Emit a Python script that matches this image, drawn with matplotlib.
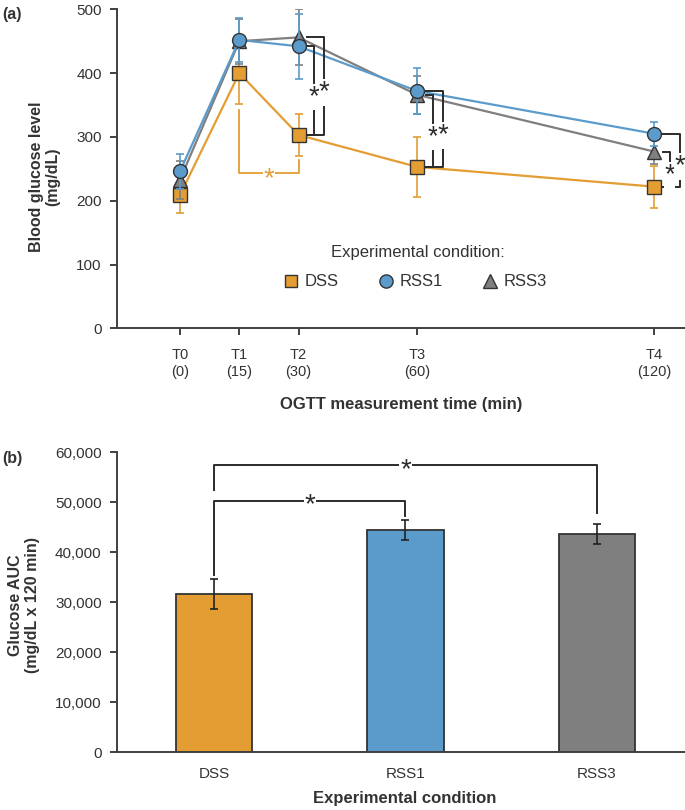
import matplotlib
matplotlib.use("Agg")
import matplotlib.pyplot as plt
from matplotlib.lines import Line2D

plt.rcParams['font.family'] = ['Liberation Sans', 'DejaVu Sans']

# ---------------- data ----------------
times = [0, 15, 30, 60, 120]
time_labels = ['T0\n(0)', 'T1\n(15)', 'T2\n(30)', 'T3\n(60)', 'T4\n(120)']
series_names = ['DSS', 'RSS1', 'RSS3']
dss_mean = [209, 400, 303, 253, 222]
dss_err = [29, 49, 33, 47, 33]
rss1_mean = [246, 452, 442, 372, 305]
rss1_err = [27, 35, 51, 36, 19]
rss3_mean = [233, 450, 456, 366, 277]
rss3_err = [30, 35, 44, 30, 20]

auc_categories = ['DSS', 'RSS1', 'RSS3']
auc_mean = [31600, 44400, 43600]
auc_err = [3000, 2000, 2000]

yticks_a = [0, 100, 200, 300, 400, 500]
yticks_b = [0, 10000, 20000, 30000, 40000, 50000, 60000]
ytick_labels_b = ['0', '10,000', '20,000', '30,000', '40,000', '50,000', '60,000']

# significance (time index, compared series) -- inner / outer
sig_a = [(2, 'RSS1', 'inner'), (2, 'RSS3', 'outer'),
         (3, 'RSS3', 'inner'), (3, 'RSS1', 'outer'),
         (4, 'RSS3', 'inner'), (4, 'RSS1', 'outer')]
# significance panel b: (left idx, right idx)
sig_b = [(0, 1), (0, 2)]

# ---------------- style ----------------
c_dss = '#E39D33'
c_rss1 = '#5B9BCB'
c_rss3 = '#7F7F7F'
c_edge = '#333333'
c_axis = '#404040'
c_text = '#333333'
c_sig = '#2b2b2b'

W, H = 685, 810
fig = plt.figure(figsize=(W / 100, H / 100), dpi=100)

def fx(px):
    return px / W

def fy(py):
    return 1 - py / H

# ---------------- panel a ----------------
ax1 = fig.add_axes([fx(117), fy(328.3), fx(685 - 117), (328.3 - 9.3) / H])
ax1.set_xlim(-15.95, 127.8)
ax1.set_ylim(0, 500)

means = {'DSS': dss_mean, 'RSS1': rss1_mean, 'RSS3': rss3_mean}
errs = {'DSS': dss_err, 'RSS1': rss1_err, 'RSS3': rss3_err}
colors = {'DSS': c_dss, 'RSS1': c_rss1, 'RSS3': c_rss3}
markers = {'DSS': 's', 'RSS1': 'o', 'RSS3': '^'}
msizes = {'DSS': 9.5, 'RSS1': 10, 'RSS3': 10}
zo = {'DSS': 3, 'RSS3': 4, 'RSS1': 5}

for name in ['DSS', 'RSS3', 'RSS1']:
    ax1.errorbar(times, means[name], yerr=errs[name], fmt='none',
                 ecolor=colors[name], elinewidth=1.2, capsize=3, capthick=1.2,
                 zorder=zo[name] - 0.5)
    ax1.plot(times, means[name], color=colors[name], lw=1.6,
             marker=markers[name], ms=msizes[name], mfc=colors[name],
             mec=c_edge, mew=1.0, zorder=zo[name])

# orange bracket T1 - T2 (DSS)
x1, x2 = times[1], times[2]
yb = dss_mean[1] - 156
ax1.plot([x1, x1, x2, x2],
         [dss_mean[1] - dss_err[1] - 9, yb, yb, dss_mean[2] - dss_err[2] - 6],
         color=c_dss, lw=1.3, zorder=2)
ax1.text((x1 + x2) / 2, yb - 10, '*', color=c_dss, fontsize=20,
         ha='center', va='center',
         bbox=dict(facecolor='white', edgecolor='none', pad=0.1), zorder=2.5)

# black brackets
off_start, off_inner, off_outer = 2.2, 3.9, 6.5
for ti, name, kind in sig_a:
    t = times[ti]
    top = means[name][ti]
    bot = dss_mean[ti]
    xe = t + (off_inner if kind == 'inner' else off_outer)
    ax1.plot([t + off_start, xe, xe, t + off_start], [top, top, bot, bot],
             color=c_sig, lw=1.4, zorder=6, clip_on=False)
    ax1.text(xe, (top + bot) / 2 - 10, '*', color=c_sig, fontsize=20,
             ha='center', va='center',
             bbox=dict(facecolor='white', edgecolor='none', pad=0.1),
             zorder=7, clip_on=False)

ax1.set_xticks(times)
ax1.set_xticklabels(time_labels, fontsize=10.5, color=c_text, linespacing=1.3)
ax1.set_yticks(yticks_a)
ax1.set_yticklabels([str(v) for v in yticks_a], fontsize=11, color=c_text)
for s in ['top', 'right']:
    ax1.spines[s].set_visible(False)
for s in ['left', 'bottom']:
    ax1.spines[s].set_color(c_axis)
    ax1.spines[s].set_linewidth(1.4)
ax1.tick_params(axis='both', direction='out', length=5, width=1.4, color=c_axis)
ax1.tick_params(axis='x', pad=9)
ax1.tick_params(axis='y', pad=6)

handles = [Line2D([], [], ls='none', marker=markers[n], ms=msizes[n] - 0.5,
                  mfc=colors[n], mec=c_edge, mew=1.0) for n in series_names]
leg = ax1.legend(handles, series_names, ncol=3, frameon=False,
                 loc='center',
                 bbox_to_anchor=((414 - 117) / 568, (328.3 - 282) / 319),
                 fontsize=12, columnspacing=2.2,
                 handletextpad=0.25, handlelength=1.2, borderaxespad=0)
for t in leg.get_texts():
    t.set_color(c_text)
fig.text(fx(418), fy(253), 'Experimental condition:', fontsize=12,
         color=c_text, ha='center', va='center')

fig.text(fx(401), fy(404), 'OGTT measurement time (min)', fontsize=12,
         fontweight='bold', color=c_text, ha='center', va='center')
fig.text(fx(45), fy(177), 'Blood glucose level\n(mg/dL)', fontsize=11.5,
         fontweight='bold', color=c_text, ha='center', va='center',
         rotation=90, multialignment='center', linespacing=1.1)
fig.text(fx(2), fy(14), '(a)', fontsize=11.5, fontweight='bold', color=c_text,
         ha='left', va='center')

# ---------------- panel b ----------------
ax2 = fig.add_axes([fx(117), fy(752), fx(568), 300 / H])
xpos = list(range(len(auc_categories)))
ax2.bar(xpos, auc_mean, width=0.4, color=[c_dss, c_rss1, c_rss3],
        edgecolor=c_edge, linewidth=1.3, zorder=2)
ax2.errorbar(xpos, auc_mean, yerr=auc_err, fmt='none', ecolor='#222222',
             elinewidth=1.2, capsize=3, capthick=1.2, zorder=3)
ax2.set_xlim(-0.507, 2.46)
ax2.set_ylim(0, 60000)

# brackets panel b
(l1, r1), (l2, r2) = sig_b
h_inner = 50300
h_outer = 57400
ax2.plot([l1, l1, r1, r1],
         [auc_mean[l1] + auc_err[l1] + 900, h_inner, h_inner,
          auc_mean[r1] + auc_err[r1] + 900],
         color=c_sig, lw=1.4, zorder=4)
ax2.plot([l2, l2, r2, r2],
         [h_inner + 2100, h_outer, h_outer, auc_mean[r2] + auc_err[r2] + 2200],
         color=c_sig, lw=1.4, zorder=4)
for (l, r), h in [((l1, r1), h_inner), ((l2, r2), h_outer)]:
    ax2.text((l + r) / 2, h - 1000, '*', color=c_sig, fontsize=20,
             ha='center', va='center',
             bbox=dict(facecolor='white', edgecolor='none', pad=0.5), zorder=5)

ax2.set_xticks(xpos)
ax2.set_xticklabels(auc_categories, fontsize=11, color=c_text)
ax2.set_yticks(yticks_b)
ax2.set_yticklabels(ytick_labels_b, fontsize=11, color=c_text)
for s in ['top', 'right']:
    ax2.spines[s].set_visible(False)
for s in ['left', 'bottom']:
    ax2.spines[s].set_color(c_axis)
    ax2.spines[s].set_linewidth(1.4)
ax2.tick_params(axis='y', direction='out', length=5, width=1.4, color=c_axis, pad=6)
ax2.tick_params(axis='x', length=0, pad=11)

fig.text(fx(405), fy(798), 'Experimental condition', fontsize=12,
         fontweight='bold', color=c_text, ha='center', va='center')
fig.text(fx(24), fy(605), 'Glucose AUC\n(mg/dL x 120 min)', fontsize=11.5,
         fontweight='bold', color=c_text, ha='center', va='center',
         rotation=90, multialignment='center', linespacing=1.1)
fig.text(fx(2), fy(458), '(b)', fontsize=11.5, fontweight='bold', color=c_text,
         ha='left', va='center')

fig.savefig('out.png', dpi=100)
